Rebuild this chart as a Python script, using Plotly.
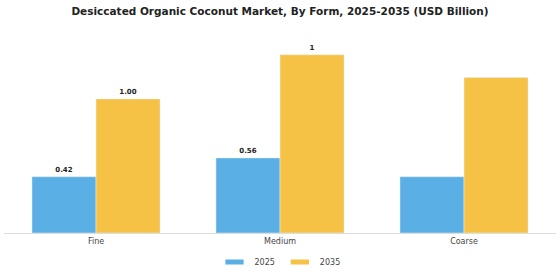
import plotly.graph_objects as go

categories = ["Fine", "Medium", "Coarse"]
values_2025 = [0.42, 0.56, 0.42]
values_2035 = [1.00, 1.33, 1.16]
labels_2025 = ["0.42", "0.56", ""]
labels_2035 = ["1.00", "1", ""]
series_names = ["2025", "2035"]
colors = ["#5AB0E4", "#F6C245"]

fig = go.Figure()
for name, vals, labs, col in zip(series_names, [values_2025, values_2035],
                                  [labels_2025, labels_2035], colors):
    fig.add_trace(go.Bar(name=name, x=categories, y=vals, text=labs,
                         textposition="outside", marker_color=col, showlegend=False,
                         textfont=dict(size=7, color="#222", family="DejaVu Sans", weight="bold"),
                         cliponaxis=False))
for name, col in zip(series_names, colors):
    fig.add_trace(go.Scatter(name=name, x=[None], y=[None], mode="markers",
                             marker=dict(symbol="line-ew", size=13,
                                         line=dict(width=5, color=col)),
                             showlegend=True))

fig.update_layout(
    width=560, height=280,
    margin=dict(l=4, r=4, t=40, b=43),
    paper_bgcolor="white", plot_bgcolor="white",
    barmode="group", bargap=0.304, bargroupgap=0,
    font=dict(family="DejaVu Sans", size=8, color="#444"),
    title=dict(text="<b>Desiccated Organic Coconut Market, By Form, 2025-2035 (USD Billion)</b>",
               x=0.5, xanchor="center", y=0.958, yanchor="middle",
               font=dict(size=10.5, color="#222", family="DejaVu Sans")),
    showlegend=True,
    legend=dict(orientation="h", x=0.5, xanchor="center", y=-0.15, yanchor="middle",
                font=dict(size=8, color="#444"), itemwidth=30),
    xaxis=dict(showline=True, linecolor="#dddddd", linewidth=1, ticks="",
               tickfont=dict(size=8, color="#444")),
    yaxis=dict(range=[0, 1.44], showgrid=False, showticklabels=False, zeroline=False,
               showline=False),
)

fig.write_html("out.html")
